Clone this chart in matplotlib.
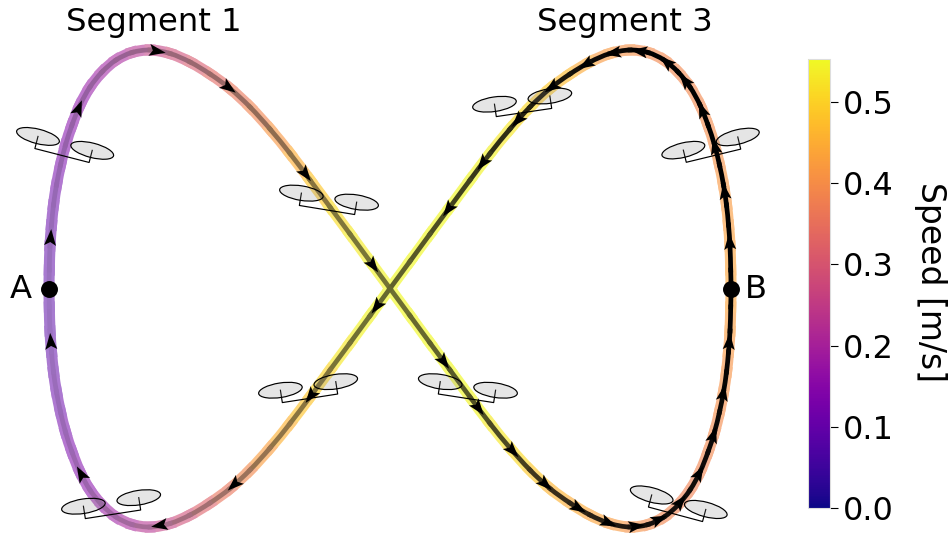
import numpy as np
import matplotlib
matplotlib.use('Agg')
import matplotlib.pyplot as plt
from matplotlib.patches import Ellipse, Polygon, PathPatch
from matplotlib.path import Path
from matplotlib.cm import ScalarMappable
from matplotlib.colors import Normalize

# path, A -> top left -> crossing -> bottom right -> B -> top right -> crossing -> bottom left -> A
path_x = [49, 49.3, 50, 51.5, 53.5, 56.5, 60.5, 65.5, 72, 80, 90, 102, 116, 132, 150,
          170, 190, 210, 230, 250, 270, 290, 310, 330, 350, 370, 390,
          410, 430, 450, 470, 490, 510, 530, 550, 570, 590, 610, 630,
          648, 664, 678, 690, 700, 708, 714.5, 719.5, 723.5, 726.5, 728.5, 730, 730.7, 731,
          730.7, 730, 728.5, 726.5, 723.5, 719.5, 714.5, 708, 700, 690, 678, 664, 648, 630,
          610, 590, 570, 550, 530, 510, 490, 470, 450, 430, 410, 390,
          370, 350, 330, 310, 290, 270, 250, 230, 210, 190, 170, 150,
          132, 116, 102, 90, 80, 72, 65.5, 60.5, 56.5, 53.5, 51.5, 50, 49.3, 49]
path_y = [288.5, 270, 246, 225, 205, 185, 165, 145, 125, 105, 87, 72, 60, 52.5, 50,
          53.5, 62, 74, 88.5, 107, 129, 153.5, 180, 207, 234, 261.3, 288.5,
          315.7, 343, 370, 397, 423.5, 448, 470, 488.5, 503, 515, 523.5, 527,
          524.5, 517, 505, 490, 472, 452, 432, 412, 392, 372, 352, 331, 307, 288.5,
          270, 246, 225, 205, 185, 165, 145, 125, 105, 87, 72, 60, 52.5, 50,
          53.5, 62, 74, 88.5, 107, 129, 153.5, 180, 207, 234, 261.3, 288.5,
          315.7, 343, 370, 397, 423.5, 448, 470, 488.5, 503, 515, 523.5, 527,
          524.5, 517, 505, 490, 472, 452, 432, 412, 392, 372, 352, 331, 307, 288.5]
speed = [.08, .085, .09, .095, .10, .11, .12, .13, .14, .15, .16, .18, .19, .21, .24,
         .27, .30, .32, .35, .37, .40, .43, .47, .50, .53, .54, .55,
         .55, .55, .55, .55, .54, .52, .50, .47, .45, .44, .43, .41,
         .40, .39, .38, .38, .38, .39, .39, .40, .40, .41, .41, .42, .43, .44,
         .44, .43, .43, .42, .42, .41, .40, .40, .39, .39, .39, .39, .39, .40,
         .41, .43, .46, .48, .50, .52, .54, .55, .55, .55, .55, .55,
         .55, .54, .52, .49, .47, .44, .41, .37, .34, .30, .27, .24,
         .21, .19, .17, .15, .14, .13, .12, .11, .10, .095, .09, .085, .08, .08]

# where the direction arrows sit along the path
arrow_x = [50, 77, 157, 228, 304, 373, 443, 478, 513, 546, 578, 608, 636, 660, 680, 698, 712, 721, 728,
           731, 724, 715, 703, 686, 667, 640, 613, 585, 552, 518, 483, 447, 378, 310, 233, 160, 80, 50]
arrow_y = [238, 108, 50, 88, 175, 265, 362, 408, 450, 483, 508, 523, 527, 522, 502, 473, 435, 393, 342,
           242, 192, 147, 110, 80, 62, 50, 50, 62, 87, 120, 163, 208, 307, 395, 483, 525, 475, 342]

# drone frame centre and tilt
drone_x = [62, 327, 524, 713.5, 310, 113, 466, 675.5]
drone_y = [155.5, 210, 112.5, 155.7, 398.3, 514.3, 398.3, 514.3]
drone_tilt = [14.4, 9.3, -8.4, -13.6, -8.8, -8.8, 8.8, 15]

speed_ticks = [0.0, 0.1, 0.2, 0.3, 0.4, 0.5]
speed_max = 0.553

waypoint_x = [49, 731]
waypoint_y = [288.5, 288.5]
waypoint_names = ['A', 'B']


def draw_drone(ax, cx, cy, tilt):
    t = np.radians(tilt)
    along = np.array([np.cos(t), np.sin(t)])
    up = np.array([np.sin(t), -np.cos(t)])
    c = np.array([cx, cy])
    pts = [c - 28 * along + 12.5 * up, c - 28 * along, c + 28 * along, c + 28 * along + 12.5 * up]
    pts = np.array(pts)
    ax.plot(pts[:, 0], pts[:, 1], color='black', lw=0.85, zorder=4)
    for p in (pts[0], pts[3]):
        ax.add_patch(Ellipse(p, 44, 14.5, angle=tilt, facecolor=(0.5, 0.5, 0.5, 0.2),
                             edgecolor='black', lw=0.85, zorder=4))


def draw_arrow(ax, px, py, pts):
    # snap onto the nearest stretch of the path and point along it
    a = pts[:-1]
    d = pts[1:] - a
    s = np.clip(((np.array([px, py]) - a) * d).sum(axis=1) / (d * d).sum(axis=1), 0, 1)
    foot = a + s[:, None] * d
    i = np.argmin(((foot - [px, py]) ** 2).sum(axis=1))
    p = foot[i]
    d = d[i] / np.hypot(*d[i])
    n = np.array([-d[1], d[0]])
    shape = [p + 9 * d, p - 7.5 * d + 6 * n, p - 4 * d, p - 7.5 * d - 6 * n]
    ax.add_patch(Polygon(shape, closed=True, facecolor='black', edgecolor='none', zorder=5))


def curve_pieces(pts):
    """One cubic piece per stretch between read points, so the loop stays round."""
    # the loop is closed, last point = first point
    before = np.roll(pts[:-1], 1, axis=0)
    after = np.roll(pts[:-1], -1, axis=0)
    tang = after - before
    tang = tang / np.hypot(tang[:, 0], tang[:, 1])[:, None]
    tang = np.vstack([tang, tang[:1]])
    pieces = []
    for i in range(len(pts) - 1):
        step = np.hypot(*(pts[i + 1] - pts[i])) / 3
        pieces.append(Path([pts[i], pts[i] + tang[i] * step, pts[i + 1] - tang[i + 1] * step, pts[i + 1]],
                           [Path.MOVETO, Path.CURVE4, Path.CURVE4, Path.CURVE4]))
    return pieces


fig = plt.figure(figsize=(9.5, 5.33), dpi=100)
ax = fig.add_axes([0, 0, 1, 1])
ax.set_xlim(0, 950)
ax.set_ylim(533, 0)
ax.axis('off')

pts = np.column_stack([path_x, path_y]).astype(float)
seg_speed = (np.array(speed[:-1]) + np.array(speed[1:])) / 2
pieces = curve_pieces(pts)

norm = Normalize(0, speed_max)
cmap = plt.get_cmap('plasma')

# band and dark centre line are flattened onto white, real alpha leaves seams between the pieces
band_alpha = np.interp(seg_speed, [0.08, 0.55], [0.52, 0.66])[:, None]
band_rgb = cmap(norm(seg_speed))[:, :3] * band_alpha + (1 - band_alpha)
frac = np.linspace(0, 1, len(pieces))
dark_alpha = np.interp(frac, [0, 0.13, 0.25, 0.31, 0.37, 0.5, 0.63, 0.69, 0.75, 0.81, 0.87, 1],
                       [0.08, 0.28, 0.55, 0.72, 0.9, 1, 1, 0.85, 0.6, 0.42, 0.22, 0.06])
dark_rgb = band_rgb * (1 - dark_alpha[:, None])

for piece, c in zip(pieces, band_rgb):
    ax.add_patch(PathPatch(piece, fill=False, edgecolor=c, lw=8, capstyle='projecting', zorder=2))
for piece, c in zip(pieces, dark_rgb):
    ax.add_patch(PathPatch(piece, fill=False, edgecolor=c, lw=3.4, capstyle='projecting', zorder=3))

for x, y, t in zip(drone_x, drone_y, drone_tilt):
    draw_drone(ax, x, y, t)
for x, y in zip(arrow_x, arrow_y):
    draw_arrow(ax, x, y, pts)

ax.plot(waypoint_x, waypoint_y, 'o', color='black', ms=12.2, mew=0, zorder=6)
ax.text(21, 289.5, waypoint_names[0], fontsize=23.2, ha='center', va='center')
ax.text(756, 289.5, waypoint_names[1], fontsize=23.2, ha='center', va='center')
ax.text(153.5, 22, 'Segment 1', fontsize=23.2, ha='center', va='center')
ax.text(624.5, 22, 'Segment 3', fontsize=23.2, ha='center', va='center')

cax = fig.add_axes([808 / 950, 25 / 533, 22 / 950, 449 / 533])
cb = fig.colorbar(ScalarMappable(norm=norm, cmap=cmap), cax=cax)
cb.outline.set_edgecolor('#dddddd')
cb.outline.set_linewidth(0.8)
cb.set_ticks(speed_ticks)
cb.ax.tick_params(labelsize=23, length=5.5, width=0.8, pad=3.5)
fig.text(931 / 950, 1 - 282 / 533, 'Speed [m/s]', rotation=270, fontsize=23.8, ha='center', va='center')

fig.savefig('out.png', dpi=100)
